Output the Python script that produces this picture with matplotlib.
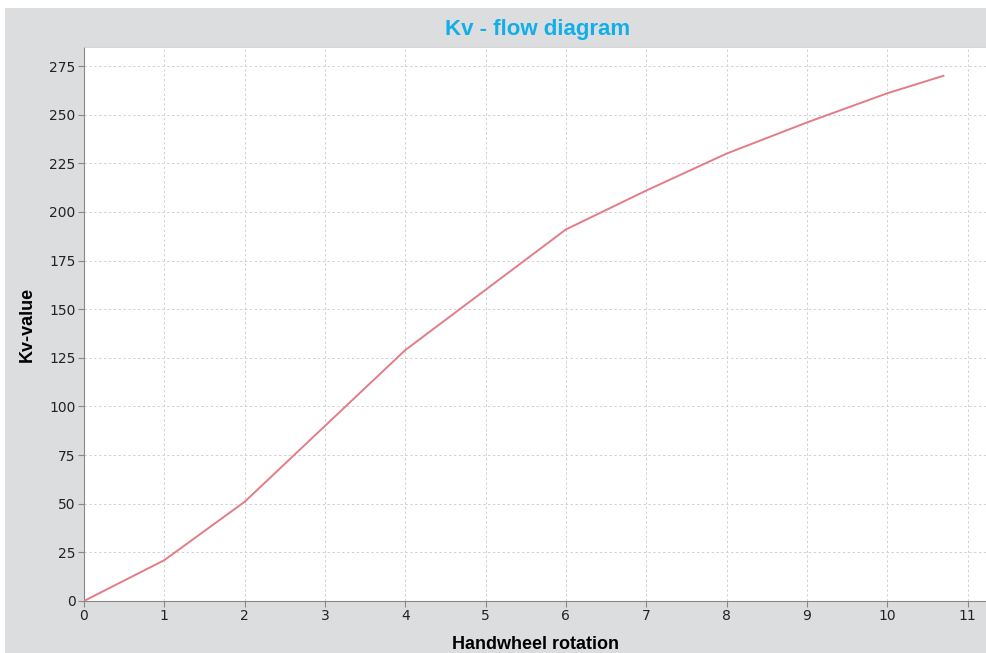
import matplotlib.pyplot as plt
from matplotlib.patches import Rectangle

# handwheel rotation vs Kv-value
rotation = [0, 1, 2, 3, 4, 5, 6, 7, 8, 9, 10, 10.7]
kv_value = [0, 21, 51, 90, 129, 160, 191, 211, 230, 246, 261, 270]

x_ticks = list(range(0, 12))
y_ticks = list(range(0, 276, 25))

narrow = ['Liberation Sans Narrow', 'DejaVu Sans Condensed', 'Liberation Sans', 'DejaVu Sans']

fig = plt.figure(figsize=(9.86, 6.53), dpi=100, facecolor='white')
# grey panel behind the chart
fig.patches.append(Rectangle((5 / 986, 0), 1, (653 - 8) / 653, transform=fig.transFigure,
                             facecolor='#dcdddf', edgecolor='none', zorder=-5))

ax = fig.add_axes([84 / 986, 52 / 653, 1 - 84 / 986, (601 - 47) / 653])
ax.set_zorder(1)
ax.plot(rotation, kv_value, color='#e27d88', linewidth=1.4, zorder=3)

ax.set_xlim(0, 11.23)
ax.set_ylim(0, 284.8)
ax.set_xticks(x_ticks)
ax.set_yticks(y_ticks)
ax.grid(True, color='#d2d2d2', linestyle=(0, (2.5, 2.5)), linewidth=0.7)
ax.tick_params(direction='out', length=4, color='#888888', labelsize=10, pad=2,
               labelcolor='#222222')

for side in ['left', 'bottom']:
    ax.spines[side].set_color('#888888')
for side in ['top', 'right']:
    ax.spines[side].set_color('#d0d0d0')
    ax.spines[side].set_linewidth(0.6)

ax.set_xlabel('Handwheel rotation', fontsize=13, fontweight='bold', family=narrow, labelpad=9)
ax.set_ylabel('Kv-value', fontsize=13, fontweight='bold', family=narrow, labelpad=10)

fig.text(0.545, 1 - 30 / 653, 'Kv - flow diagram', color='#11aee8', fontsize=16,
         fontweight='bold', ha='center', va='center', family=narrow)

fig.savefig('out.png', dpi=100, facecolor=fig.get_facecolor())
